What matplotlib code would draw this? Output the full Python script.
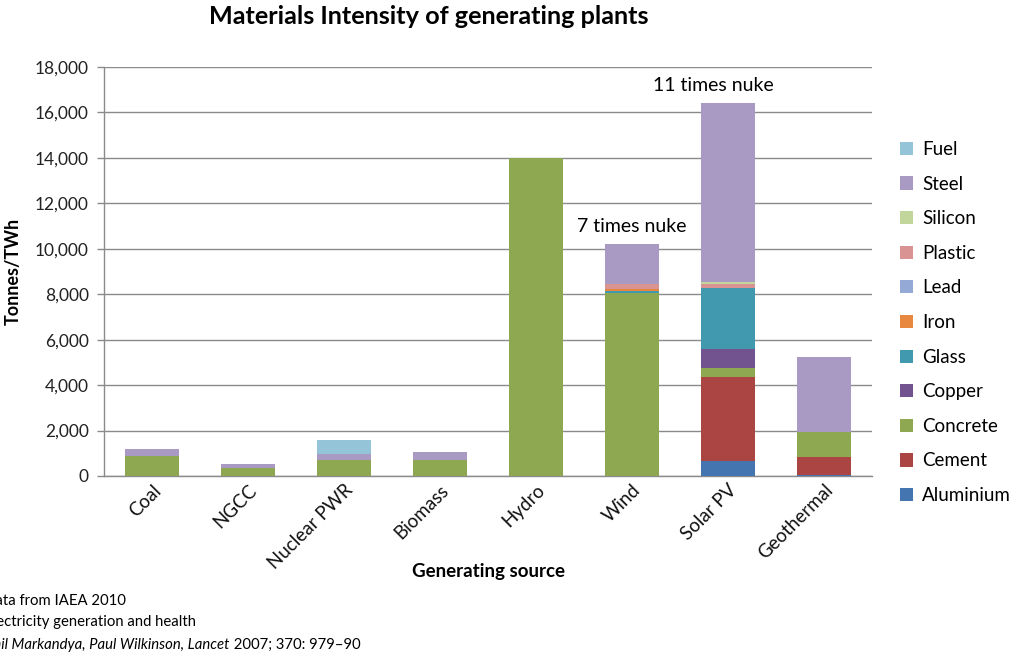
import matplotlib
matplotlib.use("Agg")
import matplotlib.pyplot as plt
import numpy as np
from matplotlib.patches import Patch

plt.rcParams['font.family'] = ['Lato', 'DejaVu Sans']

sources = ["Coal", "NGCC", "Nuclear PWR", "Biomass", "Hydro", "Wind", "Solar PV", "Geothermal"]

# Tonnes per TWh, one list per material (stacked bottom to top)
aluminium = [0, 0, 0, 0, 0, 0, 675, 50]
cement = [0, 0, 0, 0, 0, 0, 3700, 800]
concrete = [870, 370, 705, 720, 14000, 8060, 370, 1070]
copper = [0, 0, 0, 0, 0, 0, 835, 0]
glass = [0, 0, 0, 0, 0, 90, 2685, 0]
iron = [0, 0, 0, 0, 0, 70, 0, 0]
lead = [0, 0, 0, 0, 0, 0, 0, 0]
plastic = [0, 0, 0, 0, 0, 250, 190, 0]
silicon = [0, 0, 0, 0, 0, 0, 100, 0]
steel = [310, 150, 265, 350, 0, 1755, 7870, 3330]
fuel = [0, 0, 615, 0, 0, 0, 0, 0]

materials = ["Aluminium", "Cement", "Concrete", "Copper", "Glass", "Iron",
             "Lead", "Plastic", "Silicon", "Steel", "Fuel"]
series = [aluminium, cement, concrete, copper, glass, iron,
          lead, plastic, silicon, steel, fuel]
colors = ["#4575B0", "#AA4543", "#8EA852", "#73538F", "#4199B0", "#E8883F",
          "#94A9D6", "#D99392", "#C2D69B", "#A89AC2", "#93C4D8"]

yticks = [0, 2000, 4000, 6000, 8000, 10000, 12000, 14000, 16000, 18000]

fig = plt.figure(figsize=(10.18, 6.55), dpi=100)
ax = fig.add_axes([104 / 1018, 1 - 476 / 655, 768 / 1018, 409 / 655])

x = np.arange(len(sources))
bottom = np.zeros(len(sources))
for name, vals, col in zip(materials, series, colors):
    vals = np.array(vals, dtype=float)
    ax.bar(x, vals, width=0.57, bottom=bottom, color=col, label=name,
           zorder=3, linewidth=0)
    bottom += vals

ax.set_xlim(-0.5, len(sources) - 0.5)
ax.set_ylim(0, 18000)
ax.set_yticks(yticks)
ax.set_yticklabels([f"{v:,}" for v in yticks], fontsize=12.5, color="#222222")
ax.yaxis.grid(True, color="#8A8A8A", linewidth=1, zorder=0)
ax.tick_params(axis='y', length=5, width=1, color="#8A8A8A", pad=6)
ax.tick_params(axis='x', length=0, pad=4)
ax.set_xticks(x)
ax.set_xticklabels(sources, rotation=45, ha='right', rotation_mode='anchor',
                   fontsize=13.5, color="#111111")

for side in ("top", "right"):
    ax.spines[side].set_visible(False)
for side in ("left", "bottom"):
    ax.spines[side].set_color("#8A8A8A")
    ax.spines[side].set_linewidth(1)

ax.set_ylabel("Tonnes/TWh", fontsize=13, fontweight='bold')
ax.yaxis.set_label_coords((22 - 104) / 768, 0.5)
fig.text(488 / 1018, 1 - 571 / 655, "Generating source", fontsize=13.5,
         fontweight='bold', ha='center', va='center')
fig.text(429 / 1018, 1 - 17 / 655, "Materials Intensity of generating plants",
         fontsize=18.2, fontweight='bold', ha='center', va='center')

# Annotations above the wind and solar bars
totals = bottom
ax.text(x[5], totals[5] + 380, "7 times nuke", fontsize=14, ha='center', va='bottom')
ax.text(x[6] - 0.15, totals[6] + 380, "11 times nuke", fontsize=14, ha='center', va='bottom')

handles = [Patch(facecolor=c, label=m) for m, c in zip(materials, colors)][::-1]
fig.legend(handles=handles, loc='upper left', bbox_to_anchor=(883 / 1018, 1 - 124 / 655),
           frameon=False, fontsize=13.5, handlelength=0.7, handleheight=0.7,
           handletextpad=0.5, labelspacing=0.94)

# Source note at the lower left
renderer = fig.canvas.get_renderer()
fs_note = 10.7
probe = fig.text(0, 0, "Da", fontsize=fs_note)
w = probe.get_window_extent(renderer).width
probe.remove()
x0 = (3 - w) / 1018
fig.text(x0, 1 - 601 / 655, "Data from IAEA 2010", fontsize=fs_note, va='center')
fig.text(x0, 1 - 622 / 655, "Electricity generation and health", fontsize=fs_note, va='center')
t1 = fig.text(x0, 1 - 645 / 655, "Anil Markandya, Paul Wilkinson, Lancet", fontsize=fs_note,
              va='center', style='italic')
bb = t1.get_window_extent(renderer)
fig.text(bb.x1 / 1018, 1 - 645 / 655, " 2007; 370: 979\u201390", fontsize=fs_note, va='center')

fig.savefig("out.png", dpi=100)
